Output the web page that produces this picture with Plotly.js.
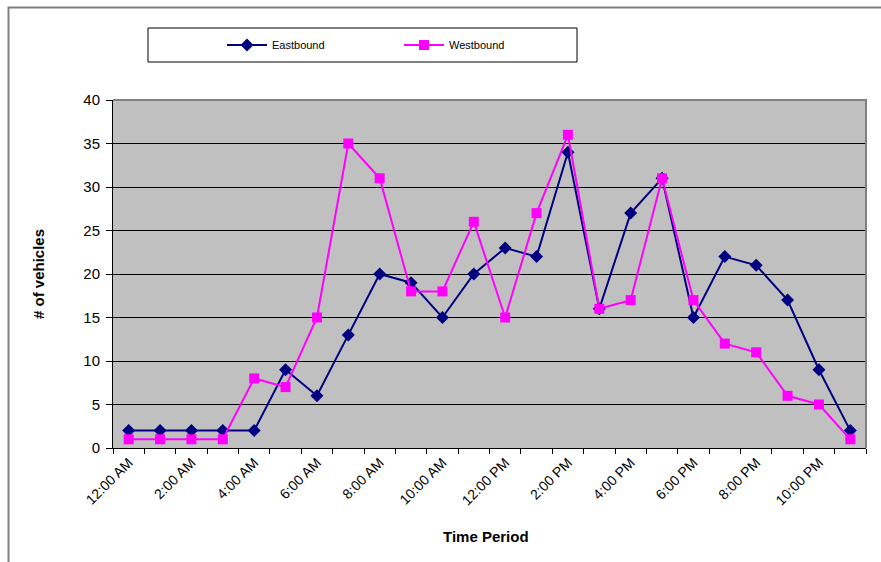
<!DOCTYPE html>
<html>
<head>
<meta charset="utf-8">
<script src="https://cdn.plot.ly/plotly-3.0.1.min.js"></script>
<style>html,body{margin:0;padding:0;background:#fff;}#chart{width:881px;height:562px;}</style>
</head>
<body>
<div id="chart"></div>
<script>
const hours = ["12:00 AM","1:00 AM","2:00 AM","3:00 AM","4:00 AM","5:00 AM","6:00 AM","7:00 AM","8:00 AM","9:00 AM","10:00 AM","11:00 AM",
               "12:00 PM","1:00 PM","2:00 PM","3:00 PM","4:00 PM","5:00 PM","6:00 PM","7:00 PM","8:00 PM","9:00 PM","10:00 PM","11:00 PM"];
const eastbound = [2,2,2,2,2,9,6,13,20,19,15,20,23,22,34,16,27,31,15,22,21,17,9,2];
const westbound = [1,1,1,1,8,7,15,35,31,18,18,26,15,27,36,16,17,31,17,12,11,6,5,1];
const tickLabels = ["12:00 AM","","2:00 AM","","4:00 AM","","6:00 AM","","8:00 AM","","10:00 AM","",
                    "12:00 PM","","2:00 PM","","4:00 PM","","6:00 PM","","8:00 PM","","10:00 PM",""];

const FONT = "Liberation Sans, Arial, sans-serif";

const traces = [
  {x: hours, y: eastbound, name: "Eastbound", type: "scatter", mode: "lines+markers",
   line: {color: "#000080", width: 2},
   marker: {symbol: "diamond", size: 10, color: "#000080"}},
  {x: hours, y: westbound, name: "Westbound", type: "scatter", mode: "lines+markers",
   line: {color: "#FF00FF", width: 2},
   marker: {symbol: "square", size: 10, color: "#FF00FF"}}
];

const layout = {
  width: 881, height: 562,
  margin: {l: 113, r: 15, t: 100, b: 114, pad: 0},
  paper_bgcolor: "#ffffff",
  plot_bgcolor: "#C0C0C0",
  font: {family: FONT, color: "#000", size: 12},
  showlegend: true,
  legend: {orientation: "h", x: (222 - 113) / 753, y: (448 - 45) / 348, xanchor: "left", yanchor: "middle",
           bgcolor: "rgba(0,0,0,0)", borderwidth: 0, font: {family: FONT, size: 11, color: "#000"},
           entrywidth: 122, entrywidthmode: "pixels", itemwidth: 40},
  xaxis: {
    type: "category", tickmode: "array", tickvals: hours, ticktext: tickLabels,
    tickson: "boundaries", ticks: "outside", ticklen: 5, tickcolor: "#000", tickwidth: 1,
    tickangle: -45, tickfont: {family: FONT, size: 14, color: "#000"},
    showline: true, linecolor: "#000", linewidth: 1, showgrid: false, zeroline: false,
    range: [-0.5, 23.5]
  },
  yaxis: {
    range: [0, 40], dtick: 5, tick0: 0, ticks: "outside", ticklen: 6, tickcolor: "#000",
    tickfont: {family: FONT, size: 15, color: "#000"}, ticklabelstandoff: 3,
    showline: true, linecolor: "#000", linewidth: 1,
    showgrid: true, gridcolor: "#000", gridwidth: 1, zeroline: false
  },
  annotations: [
    {text: "<b># of vehicles</b>", xref: "paper", yref: "paper", x: (38 - 113) / 753, y: 0.5,
     xanchor: "center", yanchor: "middle", textangle: -90, showarrow: false,
     font: {family: FONT, size: 15, color: "#000"}},
    {text: "<b>Time Period</b>", xref: "paper", yref: "paper", x: (486 - 113) / 753, y: (448 - 536) / 348,
     xanchor: "center", yanchor: "middle", showarrow: false,
     font: {family: FONT, size: 15, color: "#000"}}
  ],
  shapes: [
    {type: "path", xref: "paper", yref: "paper", path: "M 0 1 L 1 1 L 1 0",
     line: {color: "#808080", width: 2}, layer: "above"},
    {type: "rect", xref: "paper", yref: "paper",
     x0: (148 - 113) / 753, x1: (577 - 113) / 753, y0: (448 - 62) / 348, y1: (448 - 28) / 348,
     line: {color: "#000", width: 1}, fillcolor: "rgba(0,0,0,0)"},
    {type: "rect", xref: "paper", yref: "paper",
     x0: (8.5 - 113) / 753, x1: 1.05, y0: -0.4, y1: (448 - 7.5) / 348,
     line: {color: "#808080", width: 2}, fillcolor: "rgba(0,0,0,0)"}
  ]
};

Plotly.newPlot("chart", traces, layout, {displayModeBar: false, staticPlot: true});
</script>
</body>
</html>
